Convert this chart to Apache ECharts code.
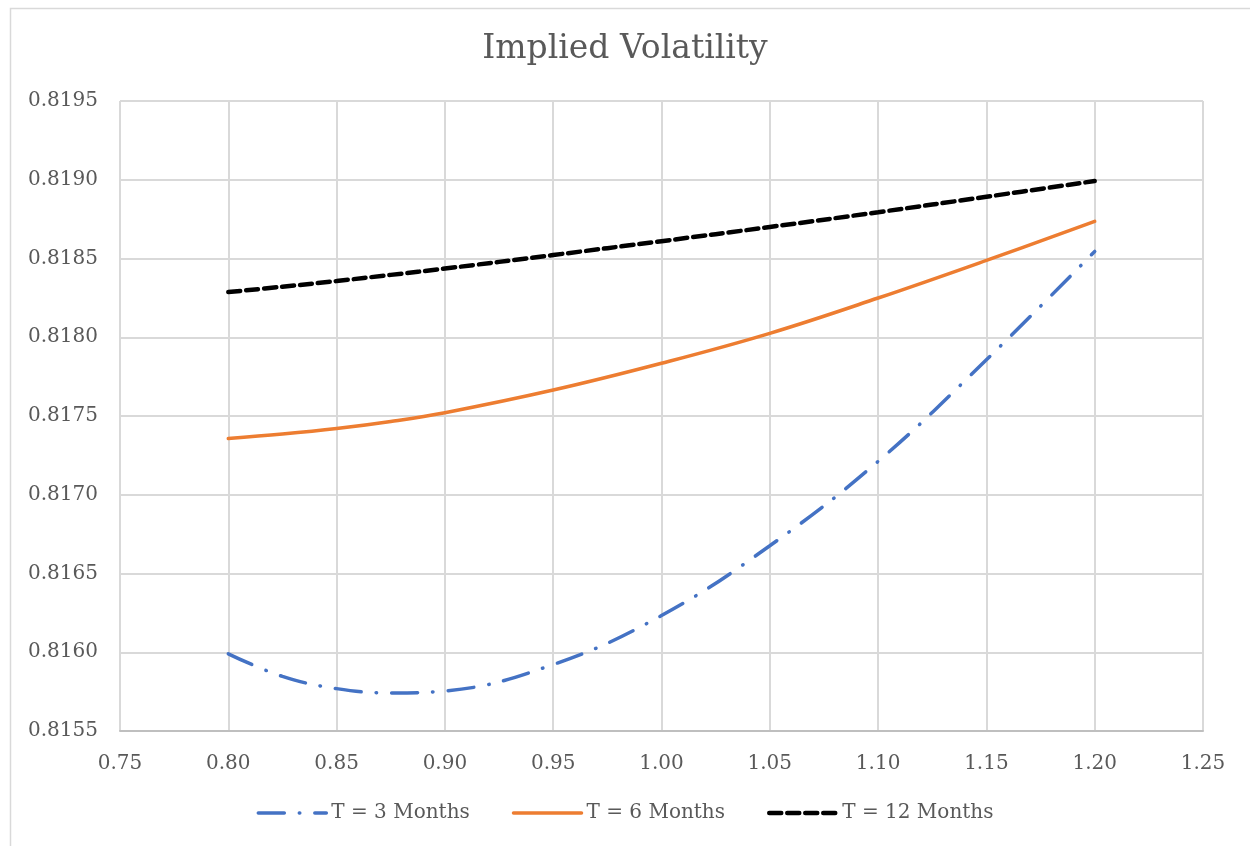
<!DOCTYPE html>
<html>
<head>
<meta charset="utf-8">
<script src="https://cdn.jsdelivr.net/npm/echarts@6/dist/echarts.min.js"></script>
<style>html,body{margin:0;padding:0;background:#fff}#c{width:1250px;height:846px}</style>
</head>
<body>
<div id="c"></div>
<script>
var moneyness = [0.80, 0.825, 0.85, 0.875, 0.90, 0.95, 1.00, 1.05, 1.10, 1.15, 1.20];
var iv3m  = [0.815990, 0.815847, 0.815769, 0.815742, 0.815754, 0.815922, 0.816233, 0.816676, 0.817212, 0.817857, 0.818545];
var iv6m  = [0.817357, 0.817385, 0.817420, 0.817465, 0.817521, 0.817665, 0.817835, 0.818025, 0.818249, 0.818488, 0.818736];
var iv12m = [0.818287, 0.818321, 0.818357, 0.818396, 0.818436, 0.818522, 0.818610, 0.818700, 0.818794, 0.818892, 0.818992];
var seriesNames = ['T = 3 Months', 'T = 6 Months', 'T = 12 Months'];
var xTicks = {min: 0.75, max: 1.25, interval: 0.05};
var yTicks = {min: 0.8155, max: 0.8195, interval: 0.0005};

function pairs(xs, ys){ return xs.map(function(x,i){ return [x, ys[i]]; }); }
var FONT = '"DejaVu Serif", serif';
var lineStyles = [
  {color: '#4472c4', width: 3.5, type: [26, 15, 0.5, 15], cap: 'round'},
  {color: '#ed7d31', width: 3.5, type: 'solid', cap: 'round'},
  {color: '#000000', width: 4.5, type: [12, 6], cap: 'round'}
];
var datasets = [iv3m, iv6m, iv12m];
var chart = echarts.init(document.getElementById('c'), null, {renderer: 'canvas'});
chart.setOption({
  animation: false,
  backgroundColor: '#fff',
  graphic: [{type: 'rect', left: 8, top: 6, shape: {width: 1400, height: 1000}, style: {fill: 'none', stroke: '#d9d9d9', lineWidth: 1.5}, silent: true, z: -1}],
  title: {text: 'Implied Volatility', left: 'center', top: 28, textStyle: {fontFamily: FONT, fontWeight: 'normal', fontSize: 33, color: '#595959'}},
  grid: {left: 120, right: 47, top: 101, bottom: 115, containLabel: false},
  legend: {
    bottom: 18, left: 'center', itemWidth: 68, itemHeight: 14, itemGap: 42,
    textStyle: {fontFamily: FONT, fontSize: 20, color: '#595959'},
    itemStyle: {opacity: 0},
    data: seriesNames.map(function(n, i){ return {name: n, itemStyle: {opacity: 0}, lineStyle: lineStyles[i]}; })
  },
  xAxis: {
    type: 'value', min: xTicks.min, max: xTicks.max, interval: xTicks.interval,
    axisLine: {show: true, lineStyle: {color: '#bfbfbf', width: 2}},
    axisTick: {show: false},
    axisLabel: {fontFamily: FONT, fontSize: 20, color: '#595959', margin: 23, formatter: function(v){ return v.toFixed(2); }},
    splitLine: {show: true, lineStyle: {color: '#d9d9d9', width: 2}}
  },
  yAxis: {
    type: 'value', min: yTicks.min, max: yTicks.max, interval: yTicks.interval,
    axisLine: {show: false}, axisTick: {show: false},
    axisLabel: {fontFamily: FONT, fontSize: 20, color: '#595959', margin: 22, formatter: function(v){ return v.toFixed(4); }},
    splitLine: {show: true, lineStyle: {color: '#d9d9d9', width: 2}}
  },
  series: seriesNames.map(function(n, i){
    return {name: n, type: 'line', smooth: 0.4, symbol: 'none', showSymbol: false,
      data: pairs(moneyness, datasets[i]),
      itemStyle: {color: lineStyles[i].color},
      lineStyle: lineStyles[i]};
  })
});
</script>
</body>
</html>
